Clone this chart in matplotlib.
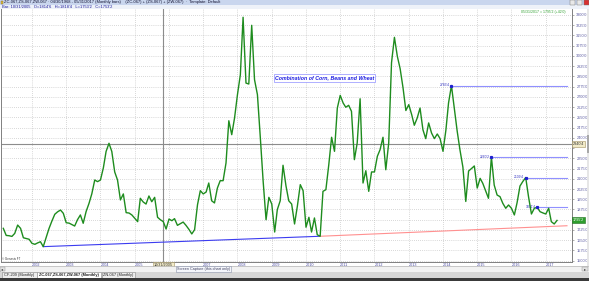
import matplotlib
matplotlib.use("Agg")
import matplotlib.pyplot as plt
import matplotlib.dates as mdates
import matplotlib.transforms as mtrans
from matplotlib.patches import Rectangle
from matplotlib.ticker import MultipleLocator
import pandas as pd

plt.rcParams["font.family"] = ["Liberation Sans", "DejaVu Sans"]

W, H = 589, 281

# monthly closes, corn + beans + wheat, Mar 2001 .. May 2017
first_month = "2001-03-01"
combo = [
    1737, 1685, 1683, 1678, 1700, 1761, 1737, 1668, 1662, 1657,              # 2001
    1627, 1620, 1630, 1639, 1603, 1670, 1735, 1790, 1840, 1858, 1871, 1847,  # 2002
    1778, 1775, 1765, 1754, 1800, 1835, 1774, 1860, 1920, 1990, 2091, 2079,  # 2003
    2091, 2180, 2300, 2360, 2300, 2150, 2091, 1945, 1989, 1852, 1849, 1835,  # 2004
    1810, 1786, 1957, 1930, 1915, 1974, 1932, 1964, 1818, 1800, 1786, 1732,  # 2005
    1805, 1793, 1808, 1759, 1771, 1783, 1759, 1730, 1696, 1727, 1910, 2013,  # 2006
    1989, 2003, 2069, 1939, 1923, 2032, 2086, 2086, 2216, 2525, 2423, 2545,  # 2007
    2716, 2862, 3283, 2801, 2794, 3224, 2826, 2716, 2400, 2082, 1800, 1964,  # 2008
    1915, 1710, 1874, 1939, 2199, 2050, 1939, 1915, 1769, 1900, 2057, 2013,  # 2009
    1745, 1818, 1710, 1813, 1690, 1679, 2008, 2020, 2203, 2404, 2301, 2618,  # 2010
    2711, 2655, 2624, 2638, 2594, 2240, 2362, 2686, 2069, 2159, 2008, 2150,  # 2011
    2150, 2265, 2313, 2404, 2166, 2362, 2950, 3136, 2997, 2906, 2765, 2600,  # 2012
    2643, 2570, 2492, 2545, 2618, 2459, 2394, 2509, 2435, 2394, 2428, 2394,  # 2013
    2301, 2457, 2655, 2783, 2618, 2450, 2311, 2186, 1934, 2157, 2175, 2194,  # 2014
    2032, 2103, 2067, 2010, 1957, 2260, 2054, 1981, 1969, 1920, 1884, 1908,  # 2015
    1884, 1835, 1925, 2047, 2080, 2109, 1969, 1842, 1884, 1891, 1859, 1850,  # 2016
    1842, 1884, 1786, 1769, 1795,                                            # 2017
]

# support lines
blue_dates = ["2002-05-01", "2010-06-01"]
blue_vals = [1603, 1679]
red_dates = ["2010-06-01", "2017-08-15"]
red_vals = [1679, 1756]

# peaks with horizontal lines
peak_dates = ["2014-04-01", "2015-06-01", "2016-06-01", "2016-10-01"]
peak_labels = ["2783'4", "2260'2", "2109'4", "1891'4"]
line_end = "2017-08-15"

cross_date = "2005-10-31"
cross_val = 2352
cross_label = "2340'4"
last_label = "1795'2"

y_ticks = list(range(1500, 3301, 75))
years = list(range(2002, 2018))
# labels hidden under the value boxes
hidden_y = [2325, 1800]
hidden_year = 2006

months = pd.date_range(first_month, periods=len(combo), freq="MS")
series = pd.Series(combo, index=months)

fig = plt.figure(figsize=(W / 100, H / 100), dpi=100, facecolor="white")

# main chart, placed by pixel
top, bot, left, right = 9, 261.5, 1, 572
ax = fig.add_axes([left / W, (H - bot) / H, (right - left) / W, (bot - top) / H], zorder=1)
ax.set_facecolor("white")

x0 = mdates.date2num(pd.Timestamp("2002-01-01"))
px_year = 34.25
ax.set_xlim(x0 + (left - 32) / px_year * 365.25, x0 + (right - 32) / px_year * 365.25)
ax.set_ylim(1500 - (bot - 260.7) * 7.324, 1500 + (260.7 - top) * 7.324)

ax.set_xticks([mdates.date2num(pd.Timestamp(f"{y}-01-01")) for y in years])
ax.set_xticklabels(["" if y == hidden_year else str(y) for y in years],
                   ha="left", fontsize=2.7, color="#4a4aa0")
ax.tick_params(axis="x", length=0, pad=1.2)

ax.yaxis.tick_right()
ax.set_yticks(y_ticks)
ax.set_yticklabels(["" if v in hidden_y else f"{v}'0" for v in y_ticks],
                   fontsize=2.8, color="#5a5aa0")
ax.yaxis.set_minor_locator(MultipleLocator(25))
ax.tick_params(axis="y", which="major", length=1.6, width=0.4, color="#707070", pad=1.5)
ax.tick_params(axis="y", which="minor", length=0.9, width=0.3, color="#909090")

ax.grid(True, which="major", linestyle=(0, (1, 2)), color="#b4b4b4", lw=0.5)
for s in ["left", "right", "bottom"]:
    ax.spines[s].set_color("#808080")
    ax.spines[s].set_linewidth(0.7)
ax.spines["top"].set_visible(False)

# crosshair
ax.axhline(cross_val, color="#8c8c8c", lw=0.8, zorder=2)
ax.axvline(pd.Timestamp(cross_date), color="#8c8c8c", lw=0.8, zorder=2)

ax.plot(pd.to_datetime(blue_dates), blue_vals, color="#3c3cf0", lw=0.8, zorder=3)
ax.plot(pd.to_datetime(red_dates), red_vals, color="#ff9090", lw=0.8, zorder=3)

for d, lab in zip(peak_dates, peak_labels):
    d = pd.Timestamp(d)
    v = series[d]
    ax.plot([d, pd.Timestamp(line_end)], [v, v], color="#9090ff", lw=0.8, zorder=3)
    ax.plot([d], [v], marker="s", ms=1.3, color="#2020d0", zorder=5)
    ax.annotate(lab, (d, v), xytext=(-1.2, 0.3), textcoords="offset points",
                ha="right", va="center", fontsize=2.4, color="#3030c0")

ax.plot(series.index, series.values, color="#1e8c1e", lw=1.0, zorder=4)

# value boxes on the axes
tr_y = mtrans.blended_transform_factory(ax.transAxes, ax.transData)
ax.text(1.002, cross_val, cross_label, transform=tr_y, fontsize=2.7, color="#303030",
        va="center", ha="left", clip_on=False, zorder=6,
        bbox=dict(boxstyle="square,pad=0.25", fc="#f2ebc8", ec="#a09060", lw=0.4))
ax.text(1.002, combo[-1], last_label, transform=tr_y, fontsize=2.7, color="white",
        va="center", ha="left", clip_on=False, zorder=6,
        bbox=dict(boxstyle="square,pad=0.25", fc="#2e9e2e", ec="#1e6e1e", lw=0.4))
tr_x = mtrans.blended_transform_factory(ax.transData, ax.transAxes)
ax.text(pd.Timestamp(cross_date), -0.004, "10/31/2005", transform=tr_x, fontsize=2.7,
        color="#303030", va="top", ha="center", clip_on=False, zorder=6,
        bbox=dict(boxstyle="square,pad=0.25", fc="#f2ebc8", ec="#a09060", lw=0.4))

# window chrome, in pixel coords
ov = fig.add_axes([0, 0, 1, 1], zorder=5)
ov.set_xlim(0, W)
ov.set_ylim(H, 0)
ov.axis("off")
ov.patch.set_alpha(0)

ov.add_patch(Rectangle((0, 0), W, 4.6, fc="#c9d6ee", ec="none"))
ov.add_patch(Rectangle((0, 4.6), W, 4.4, fc="#eef2f9", ec="none"))
ov.add_patch(Rectangle((0.5, 0.6), 2.8, 3.2, fc="#e0c040", ec="#806020", lw=0.3))
ov.text(4.2, 2.4, "ZC-067,ZS-067,ZW-067 · 04/30/1968 - 05/31/2017 (Monthly bars)    "
        "(ZC-067) + (ZS-067) + (ZW-067)  ·  Template: Default",
        fontsize=2.9, color="#101030", va="center", ha="left")
ov.text(2.0, 6.9, "Bar: 10/31/2005   O=1814'6   H=1818'4   L=1753'2   C=1753'2",
        fontsize=2.9, color="#1a1a9a", va="center", ha="left")
for bx, c in [(570, "#e8e8e8"), (577, "#e8e8e8"), (583.5, "#d83030")]:
    ov.add_patch(Rectangle((bx, 0.4), 5.2, 4.6, fc=c, ec="#707070", lw=0.3))

ov.text(543, 12.4, "05/31/2017 = 1795'2 (+42'0)", fontsize=2.5, color="#30a030",
        ha="center", va="center")
ov.text(324.5, 77.7, "Combination of Corn, Beans and Wheat", ha="center", va="center",
        fontsize=3.8, weight="bold", style="italic", color="#1c1ce0",
        bbox=dict(boxstyle="square,pad=0.25", fc="white", ec="#9090ff", lw=0.5))
ov.text(2.5, 258.6, "© Genesis FT", fontsize=2.1, color="#303030", ha="left", va="center")

# right scroll strip
ov.add_patch(Rectangle((586.8, 9), 2.2, 257, fc="#e6e6e6", ec="none"))
ov.add_patch(Rectangle((586.8, 135), 2.2, 18, fc="#a8a8a8", ec="none"))

# bottom scrollbar
ov.add_patch(Rectangle((0, 266.2), W, 5.4, fc="#f2f2f2", ec="#a0a0a0", lw=0.4))
ov.add_patch(Rectangle((0.3, 266.6), 4.2, 4.6, fc="#e2e2e2", ec="#909090", lw=0.3))
ov.add_patch(Rectangle((582, 266.6), 5.6, 4.6, fc="#e2e2e2", ec="#909090", lw=0.3))
ov.text(584.8, 268.9, "▸", fontsize=3, color="#404040", ha="center", va="center")
ov.text(2.4, 268.9, "◂", fontsize=3, color="#404040", ha="center", va="center")
ov.text(203.8, 268.9, "Screen Capture (this chart only)", fontsize=2.7, color="#404060",
        ha="center", va="center",
        bbox=dict(boxstyle="square,pad=0.3", fc="#f4f6fb", ec="#8890a8", lw=0.4))

# tabs
ov.add_patch(Rectangle((0, 271.6), W, 7, fc="#d6d6d6", ec="none"))
tabs = [("CF-209 (Monthly)", 1.5, 35.5, False),
        ("ZC-067,ZS-067,ZW-067 (Monthly)", 37, 64, True),
        ("ZN-067 (Monthly)", 102, 33, False)]
for name, tx, tw, active in tabs:
    ov.add_patch(Rectangle((tx, 271.8), tw, 6.2, fc="white" if active else "#ededed",
                           ec="#888888", lw=0.4))
    ov.text(tx + tw / 2, 275, name, fontsize=2.8, color="#202020", ha="center", va="center",
            weight="bold" if active else "normal")
ov.add_patch(Rectangle((0, 278.4), W, 2.6, fc="#3a3a3a", ec="none"))

fig.savefig("out.png", dpi=100, facecolor="white")
